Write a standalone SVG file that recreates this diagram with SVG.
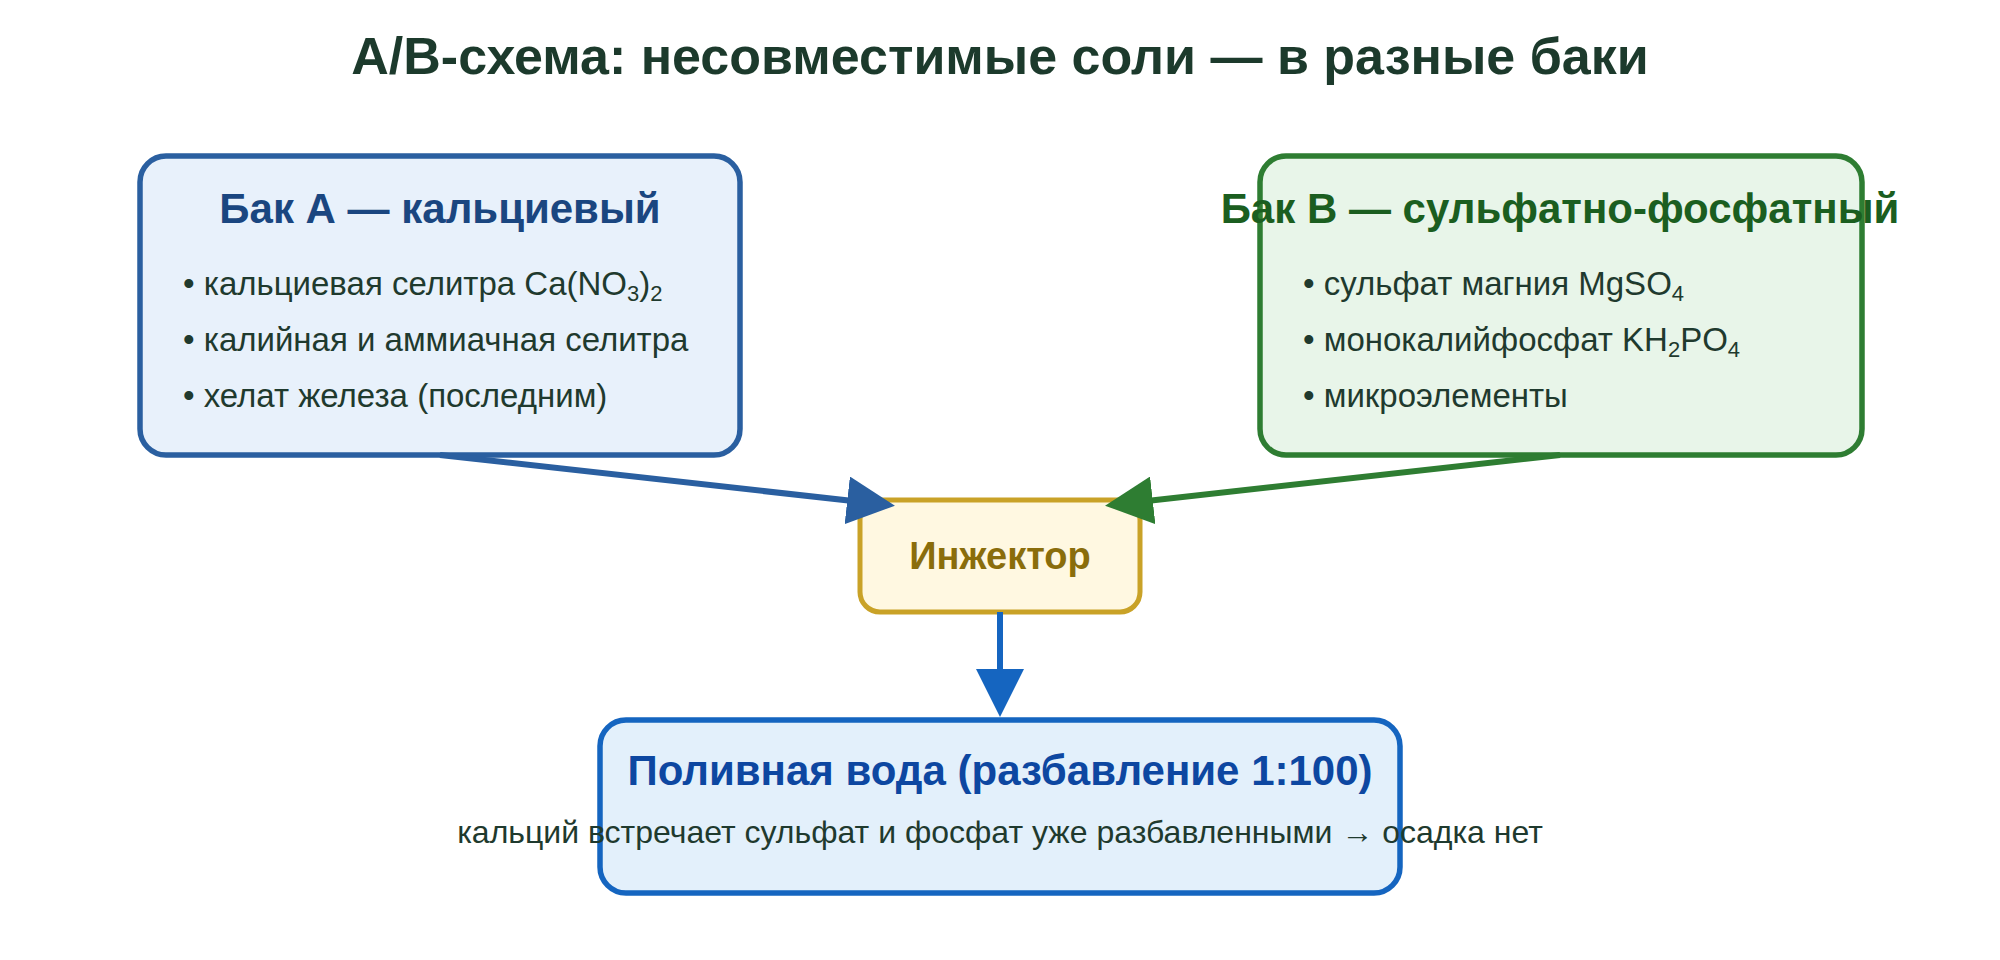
<svg xmlns="http://www.w3.org/2000/svg" width="2000" height="960" viewBox="0 0 2000 960">
<style>
text{font-family:"Liberation Sans",Arial,sans-serif}
.t{font-size:52px;font-weight:bold;fill:#1c3a2c}
.h{font-size:42px;font-weight:bold}
.b{font-size:33px;fill:#1f3a2e}
.s{font-size:22px}
</style>
<defs>
<marker id="ma" markerWidth="8" markerHeight="8" refX="7" refY="4" orient="auto" markerUnits="strokeWidth"><path d="M0,0 L8,4 L0,8 z" fill="#2a5fa0"/></marker>
<marker id="mb" markerWidth="8" markerHeight="8" refX="7" refY="4" orient="auto" markerUnits="strokeWidth"><path d="M0,0 L8,4 L0,8 z" fill="#2e7d32"/></marker>
<marker id="mc" markerWidth="8" markerHeight="8" refX="7" refY="4" orient="auto" markerUnits="strokeWidth"><path d="M0,0 L8,4 L0,8 z" fill="#1565c0"/></marker>
</defs>
<rect width="2000" height="960" fill="#fff"/>
<text class="t" x="1000" y="74" text-anchor="middle">A/B-схема: несовместимые соли — в разные баки</text>
<g id="tankA">
<rect x="140" y="156" width="600" height="299" rx="26" fill="#e8f1fb" stroke="#2a5fa0" stroke-width="5.5"/>
<text class="h" x="440" y="223" text-anchor="middle" fill="#1a4680">Бак А — кальциевый</text>
<text class="b" x="183" y="295">• кальциевая селитра Ca(NO<tspan class="s" dy="6">3</tspan><tspan dy="-6">)</tspan><tspan class="s" dy="6">2</tspan></text>
<text class="b" x="183" y="351">• калийная и аммиачная селитра</text>
<text class="b" x="183" y="407">• хелат железа (последним)</text>
</g>
<g id="tankB">
<rect x="1260" y="156" width="602" height="299" rx="26" fill="#e8f5e9" stroke="#2e7d32" stroke-width="5.5"/>
<text class="h" x="1560" y="223" text-anchor="middle" fill="#1b5e20">Бак B — сульфатно-фосфатный</text>
<text class="b" x="1303" y="295">• сульфат магния MgSO<tspan class="s" dy="6">4</tspan></text>
<text class="b" x="1303" y="351">• монокалийфосфат KH<tspan class="s" dy="6">2</tspan><tspan dy="-6">PO</tspan><tspan class="s" dy="6">4</tspan></text>
<text class="b" x="1303" y="407">• микроэлементы</text>
</g>
<g id="injector">
<rect x="860" y="500" width="280" height="112" rx="20" fill="#fff8e1" stroke="#c9a227" stroke-width="5"/>
<text x="1000" y="569" text-anchor="middle" font-size="38" font-weight="bold" fill="#8a6d0b">Инжектор</text>
</g>
<g id="water">
<rect x="600" y="720" width="800" height="173" rx="26" fill="#e3f0fb" stroke="#1565c0" stroke-width="5.5"/>
<text class="h" x="1000" y="785" text-anchor="middle" fill="#0d47a1">Поливная вода (разбавление 1:100)</text>
<text x="1000" y="843" text-anchor="middle" font-size="32" fill="#1f3a2e">кальций встречает сульфат и фосфат уже разбавленными → осадка нет</text>
</g>
<g id="connectors" stroke-width="6" fill="none">
<line x1="440" y1="455" x2="889" y2="505" stroke="#2a5fa0" marker-end="url(#ma)"/>
<line x1="1560" y1="455" x2="1111" y2="505" stroke="#2e7d32" marker-end="url(#mb)"/>
<line x1="1000" y1="612" x2="1000" y2="711" stroke="#1565c0" marker-end="url(#mc)"/>
</g>
</svg>
